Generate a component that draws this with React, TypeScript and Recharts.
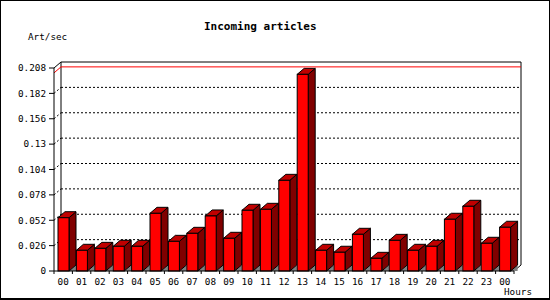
import React from "react";
import { Bar, BarChart, CartesianGrid, ReferenceLine, XAxis, YAxis } from "recharts";

const HOURS = ["00", "01", "02", "03", "04", "05", "06", "07", "08", "09", "10", "11", "12", "13", "14", "15", "16", "17", "18", "19", "20", "21", "22", "23", "00"];
const ARTICLES_PER_SEC = [
  0.0546, 0.0212, 0.0232, 0.0253, 0.0253, 0.0591, 0.0304, 0.0386, 0.0564, 0.0335, 0.0622, 0.0632,
  0.0929, 0.2015, 0.0212, 0.0192, 0.0376, 0.013, 0.0314, 0.0212, 0.0253, 0.053, 0.0663, 0.0284, 0.0448,
];
const Y_TICKS = [0, 0.026, 0.052, 0.078, 0.104, 0.13, 0.156, 0.182, 0.208];
const PEAK = 0.203;

const DX = 7;
const DY = 6;
const FONT = "'DejaVu Sans Mono', 'Liberation Mono', monospace";

const data = HOURS.map((hour, i) => ({ hour, value: ARTICLES_PER_SEC[i] }));

function Bar3D(props: any) {
  const { x, y, width, height } = props;
  if (width == null || height == null) return null;
  const b = y + height;
  const r = x + width;
  return (
    <g>
      <polygon points={`${r},${b} ${r + DX},${b - DY} ${r + DX},${b}`} fill="#808080" />
      <polygon
        points={`${r},${y} ${r + DX},${y - DY} ${r + DX},${b - DY} ${r},${b}`}
        fill="#800000"
        stroke="#000"
        strokeWidth={1}
      />
      <polygon
        points={`${x},${y} ${x + DX},${y - DY} ${r + DX},${y - DY} ${r},${y}`}
        fill="#c00000"
        stroke="#000"
        strokeWidth={1}
      />
      <rect x={x} y={y} width={width} height={height} fill="#ff0000" stroke="#000" strokeWidth={1} />
    </g>
  );
}

function gridLine(props: any) {
  const { x1, y1, x2, y, height, key } = props;
  const top = Math.abs(y1 - y) < 0.5;
  const bottom = Math.abs(y1 - (y + height)) < 0.5;
  if (bottom) return <g key={key} />;
  if (top) {
    const yb = y + height;
    return (
      <g key={key} stroke="#000" strokeWidth={1} fill="none">
        <line x1={x1} y1={y1} x2={x1 + DX} y2={y1 - DY} />
        <line x1={x1 + DX} y1={y1 - DY} x2={x2 + DX} y2={y1 - DY} />
        <line x1={x1 + DX} y1={y1 - DY} x2={x1 + DX} y2={yb - DY} />
        <line x1={x2 + DX} y1={y1 - DY} x2={x2 + DX} y2={yb - DY} />
        <line x1={x2 + DX} y1={yb - DY} x2={x2} y2={yb} />
      </g>
    );
  }
  return (
    <g key={key} stroke="#000" strokeWidth={1} strokeDasharray="2 2" fill="none">
      <line x1={x1} y1={y1} x2={x1 + DX} y2={y1 - DY} />
      <line x1={x1 + DX} y1={y1 - DY} x2={x2 + DX} y2={y1 - DY} />
    </g>
  );
}

// max marker sits on the back wall, like the grid
function peakLine(props: any) {
  const { x1, y1, x2 } = props;
  return (
    <g stroke="#ff0000" strokeWidth={1} fill="none">
      <line x1={x1} y1={y1} x2={x1 + DX} y2={y1 - DY} />
      <line x1={x1 + DX} y1={y1 - DY} x2={x2 + DX} y2={y1 - DY} />
    </g>
  );
}

function HourTick(props: any) {
  const { x, y, payload, width } = props;
  const slot = width / HOURS.length;
  const axisY = y - 5;
  const isLast = payload.index === HOURS.length - 1;
  return (
    <g>
      <line x1={x - slot / 2} y1={axisY} x2={x - slot / 2} y2={axisY + 3} stroke="#000" />
      {isLast ? <line x1={x + slot / 2} y1={axisY} x2={x + slot / 2} y2={axisY + 3} stroke="#000" /> : null}
      <text x={x} y={axisY + 14} textAnchor="middle" fill="#000" fontSize={9.3} fontFamily={FONT}>
        {payload.value}
      </text>
    </g>
  );
}

export default function App() {
  return (
    <div
      style={{
        position: "fixed",
        left: 0,
        top: 0,
        width: 550,
        height: 300,
        background: "#fff",
        boxSizing: "border-box",
        border: "1px solid #000",
        borderBottomWidth: 2,
      }}
    >
      <div style={{ position: "absolute", left: 0, top: 0 }}>
        <BarChart width={550} height={300} data={data} margin={{ top: 67, right: 37, bottom: 0, left: 0 }}>
          <CartesianGrid vertical={false} horizontal={gridLine} stroke="#000" />
          <XAxis
            dataKey="hour"
            height={30}
            interval={0}
            tickLine={false}
            tickSize={3}
            tickMargin={2}
            axisLine={{ stroke: "#000" }}
            tick={<HourTick />}
          />
          <YAxis
            domain={[0, 0.208]}
            ticks={Y_TICKS}
            width={53}
            tickSize={5}
            tickMargin={3}
            axisLine={{ stroke: "#000" }}
            tickLine={{ stroke: "#000" }}
            tick={{ fill: "#000", fontSize: 9.3, fontFamily: FONT }}
          />
          <ReferenceLine y={PEAK} shape={peakLine} />
          <Bar dataKey="value" barSize={11} shape={<Bar3D />} isAnimationActive={false} />
        </BarChart>
      </div>
      <div
        style={{
          position: "absolute",
          left: 203,
          top: 20,
          fontFamily: FONT,
          fontWeight: "bold",
          fontSize: 11,
          lineHeight: 1,
          whiteSpace: "nowrap",
        }}
      >
        Incoming articles
      </div>
      <div style={{ position: "absolute", left: 27, top: 31, fontFamily: FONT, fontSize: 9.3, lineHeight: 1 }}>
        Art/sec
      </div>
      <div style={{ position: "absolute", left: 503, top: 286, fontFamily: FONT, fontSize: 9.3, lineHeight: 1 }}>
        Hours
      </div>
    </div>
  );
}
